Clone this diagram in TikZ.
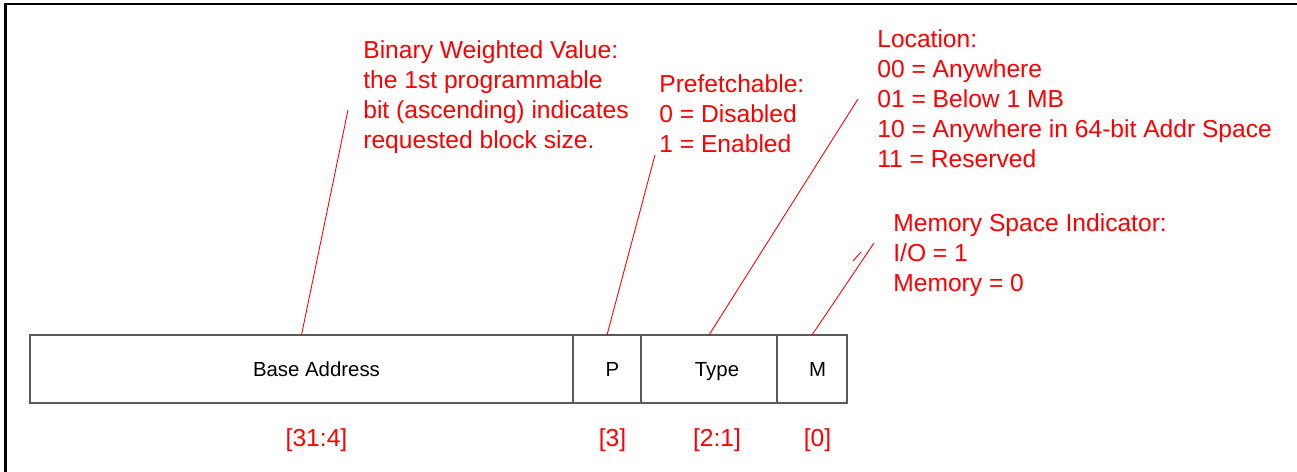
\documentclass[tikz,border=0pt]{standalone}
\usepackage{fontspec}
\setmainfont{Liberation Sans}
\usepackage{xcolor}
\definecolor{barred}{RGB}{255,0,0}
\definecolor{bargray}{RGB}{90,90,90}
\usetikzlibrary{positioning}

\begin{document}
\begin{tikzpicture}[
  field/.style={draw=bargray,line width=0.6pt,minimum height=1.36cm,inner sep=0pt,outer sep=0pt},
  fieldtxt/.style={font=\fontsize{11.6}{13.9}\selectfont,text height=0.72em,text depth=0.21em},
  note/.style={font=\fontsize{14}{17.1}\selectfont,text=barred,inner sep=0pt},
  memo/.style={note,align=left,anchor=north west},
  leader/.style={barred,line width=0.5pt}]
  \useasboundingbox (0,0) rectangle (25.94,9.44);
  \draw[line width=1.6pt] (0.11,0) -- (0.11,9.36) -- (25.94,9.36);
  % register fields
  \node[field,minimum width=10.86cm] (base) at (6.03,2.06) {};
  \node[field,minimum width=1.36cm,right=0pt of base] (pbit) {};
  \node[field,minimum width=2.72cm,right=0pt of pbit] (type) {};
  \node[field,minimum width=1.40cm,right=0pt of type] (mbit) {};
  \foreach \f/\t/\b/\dx in {base/Base Address/{[31:4]}/0.30, pbit/P/{[3]}/0.11, type/Type/{[2:1]}/0.16, mbit/M/{[0]}/0.11}{
    \node[fieldtxt] (\f txt) at ([xshift=\dx cm,yshift=-0.06cm]\f.center) {\t};
    \node[note] (\f bits) at ([xshift=\dx cm,yshift=-1.42cm]\f.center) {\b};
  }
  % notes
  \node[memo] (sizenote) at (7.26,8.64) {Binary Weighted Value:\\the 1st programmable\\bit (ascending) indicates\\requested block size.};
  \node[memo] (prefnote) at (13.18,7.96) {Prefetchable:\\0 = Disabled\\1 = Enabled};
  \node[memo] (locnote) at (17.54,8.86) {Location:\\00 = Anywhere\\01 = Below 1 MB\\10 = Anywhere in 64-bit Addr Space\\11 = Reserved};
  \node[memo] (spacenote) at (17.86,5.18) {Memory Space Indicator:\\I/O = 1\\Memory = 0};
  \coordinate (sizetip) at (6.96,7.24);
  \coordinate (preftip) at (13.10,6.34);
  \coordinate (loctip) at (17.16,7.46);
  \coordinate (spacetip) at (17.48,4.58);
  \foreach \f/\c in {base/sizetip, pbit/preftip, type/loctip, mbit/spacetip}
    \draw[leader] (\f.north) -- (\c);
  \coordinate (ticka) at (17.06,4.22);
  \coordinate (tickb) at (17.22,4.40);
  \draw[leader] (ticka) -- (tickb);
\end{tikzpicture}
\end{document}
